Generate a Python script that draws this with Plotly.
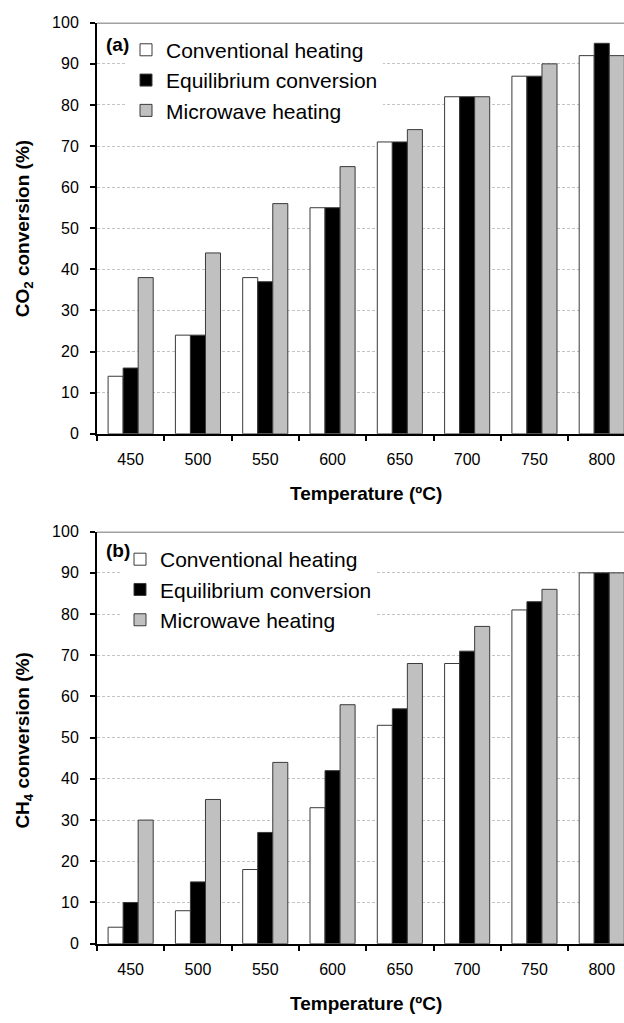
import plotly.graph_objects as go

temps = ["450", "500", "550", "600", "650", "700", "750", "800"]

co2_conventional = [14, 24, 38, 55, 71, 82, 87, 92]
co2_equilibrium = [16, 24, 37, 55, 71, 82, 87, 95]
co2_microwave = [38, 44, 56, 65, 74, 82, 90, 92]

ch4_conventional = [4, 8, 18, 33, 53, 68, 81, 90]
ch4_equilibrium = [10, 15, 27, 42, 57, 71, 83, 90]
ch4_microwave = [30, 35, 44, 58, 68, 77, 86, 90]

series_names = ["Conventional heating", "Equilibrium conversion", "Microwave heating"]
series_colors = ["#ffffff", "#000000", "#c0c0c0"]

W, H = 624, 1023
FONT = "Arial, Liberation Sans, sans-serif"

fig = go.Figure()

panels = [
    ("x", "y", "legend", [co2_conventional, co2_equilibrium, co2_microwave]),
    ("x2", "y2", "legend2", [ch4_conventional, ch4_equilibrium, ch4_microwave]),
]
for xa, ya, leg, data in panels:
    for name, color, vals in zip(series_names, series_colors, data):
        fig.add_trace(go.Bar(
            x=temps, y=vals, name=name, xaxis=xa, yaxis=ya, legend=leg,
            marker=dict(color=color, line=dict(color="#3a3a3a", width=1)),
        ))

x_dom = [97 / W, 1.0]
top_dom = [1 - 433 / H, 1 - 15 / H]
bot_dom = [1 - 951.5 / H, 1 - 532.5 / H]
x_range = [-0.5, -0.5 + (W - 97) / 67.3]

xcommon = dict(
    type="category", range=x_range, tickson="boundaries", ticks="outside",
    ticklen=5, tickwidth=1.5, tickcolor="#000", showline=True, linecolor="#000",
    linewidth=2, showgrid=False, tickfont=dict(family=FONT, size=16, color="#000"),
    ticklabelstandoff=10,
)
ycommon = dict(
    range=[0, 100], dtick=10, ticks="outside", ticklen=5, tickwidth=1.5,
    tickcolor="#000", showline=True, linecolor="#000", linewidth=2,
    showgrid=True, gridcolor="#c4c4c4", gridwidth=1, griddash="3px,2px",
    zeroline=False, tickfont=dict(family=FONT, size=16, color="#000"),
    ticklabelstandoff=8,
)

legcommon = dict(
    font=dict(family=FONT, size=21, color="#000"), bgcolor="#ffffff",
    borderwidth=0, xanchor="left", yanchor="top", traceorder="normal",
)

fig.update_layout(
    width=W, height=H, margin=dict(l=0, r=0, t=0, b=0),
    paper_bgcolor="#ffffff", plot_bgcolor="#ffffff",
    barmode="group", bargap=0.33, bargroupgap=0,
    font=dict(family=FONT, color="#000"),
    xaxis=dict(domain=x_dom, anchor="y", **xcommon),
    yaxis=dict(domain=top_dom, anchor="x", **ycommon),
    xaxis2=dict(domain=x_dom, anchor="y2", **xcommon),
    yaxis2=dict(domain=bot_dom, anchor="x2", **ycommon),
    legend=dict(x=126 / W, y=1 - 22 / H, **legcommon),
    legend2=dict(x=120 / W, y=1 - 540 / H, **legcommon),
)

# top frame lines
for ya in ["y", "y2"]:
    fig.add_shape(type="line", xref=("x domain" if ya == "y" else "x2 domain"), yref=ya,
                  x0=0, x1=1, y0=100, y1=100, line=dict(color="#444", width=1.5))

ann = [
    dict(text="<b>(a)</b>", x=104 / W, y=1 - 37 / H, xanchor="left", yanchor="middle", size=19),
    dict(text="<b>(b)</b>", x=104 / W, y=1 - 552 / H, xanchor="left", yanchor="middle", size=19),
    dict(text="<b>Temperature (ºC)</b>", x=(97 + (W - 97 + 11) / 2) / W, y=1 - 494 / H,
         xanchor="center", yanchor="middle", size=19),
    dict(text="<b>Temperature (ºC)</b>", x=(97 + (W - 97 + 11) / 2) / W, y=1 - 1012 / H,
         xanchor="center", yanchor="middle", size=19),
]
for a in ann:
    fig.add_annotation(xref="paper", yref="paper", x=a["x"], y=a["y"], text=a["text"],
                       showarrow=False, xanchor=a["xanchor"], yanchor=a["yanchor"],
                       font=dict(family=FONT, size=a["size"], color="#000"))

for text, yc in [("<b>CO<sub>2</sub> conversion (%)</b>", 225), ("<b>CH<sub>4</sub> conversion (%)</b>", 745)]:
    fig.add_annotation(xref="paper", yref="paper", x=24 / W, y=1 - yc / H, text=text,
                       showarrow=False, textangle=-90, xanchor="center", yanchor="middle",
                       font=dict(family=FONT, size=19, color="#000"))

fig.write_html("out.html")
